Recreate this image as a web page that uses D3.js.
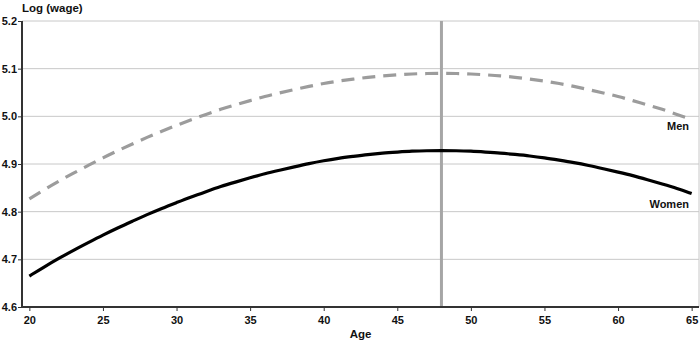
<!DOCTYPE html>
<html>
<head>
<meta charset="utf-8">
<script src="https://cdn.jsdelivr.net/npm/d3@7"></script>
<style>
  html, body { margin: 0; padding: 0; background: #fff; }
  svg text { font-family: "Liberation Sans", Arial, sans-serif; font-weight: bold; fill: #111; }
</style>
</head>
<body>
<svg id="chart" width="700" height="343"></svg>
<script>
// Ages 20..65
const ages = d3.range(20, 66);
const men = [4.827,4.846,4.864,4.881,4.897,4.913,4.928,4.942,4.956,4.969,4.981,4.993,5.004,5.015,5.024,5.033,5.042,5.049,5.056,5.063,5.069,5.074,5.078,5.082,5.085,5.087,5.089,5.090,5.090,5.090,5.089,5.087,5.085,5.082,5.078,5.074,5.069,5.063,5.056,5.049,5.042,5.033,5.024,5.015,5.004,4.993];
const women = [4.665,4.684,4.702,4.719,4.735,4.751,4.766,4.780,4.794,4.807,4.819,4.831,4.842,4.853,4.862,4.871,4.880,4.887,4.894,4.901,4.907,4.912,4.916,4.920,4.923,4.925,4.927,4.928,4.928,4.928,4.927,4.925,4.923,4.920,4.917,4.913,4.908,4.903,4.897,4.890,4.883,4.876,4.867,4.858,4.849,4.838];
const xTicks = [20, 25, 30, 35, 40, 45, 50, 55, 60, 65];
const yTicks = [4.6, 4.7, 4.8, 4.9, 5.0, 5.1, 5.2];
const peakAge = 48;

const svg = d3.select("#chart");
const plotL = 22, plotR = 699, plotT = 21, plotB = 307;

const x = d3.scaleLinear().domain([19.5, 65.5]).range([plotL, plotR]);
const y = d3.scaleLinear().domain([4.6, 5.2]).range([plotB, plotT]);

// gridlines
svg.append("g").selectAll("line").data(yTicks.filter(v => v > 4.6)).join("line")
  .attr("x1", plotL).attr("x2", plotR)
  .attr("y1", d => y(d)).attr("y2", d => y(d))
  .attr("stroke", "#c8c8c8").attr("stroke-width", 1);

// right border
svg.append("line").attr("x1", plotR).attr("x2", plotR).attr("y1", plotT).attr("y2", plotB)
  .attr("stroke", "#c8c8c8").attr("stroke-width", 1);

// peak marker
svg.append("line")
  .attr("x1", x(peakAge)).attr("x2", x(peakAge))
  .attr("y1", y(5.2)).attr("y2", y(4.6))
  .attr("stroke", "#a6a6a6").attr("stroke-width", 3);

const line = d3.line().x((d, i) => x(ages[i])).y(d => y(d)).curve(d3.curveBasis);

svg.append("path").datum(men).attr("d", line)
  .attr("fill", "none").attr("stroke", "#9c9c9c").attr("stroke-width", 3.2)
  .attr("stroke-dasharray", "13,8");

svg.append("path").datum(women).attr("d", line)
  .attr("fill", "none").attr("stroke", "#000").attr("stroke-width", 3.2);

// axes
const xAxis = d3.axisBottom(x).tickValues(xTicks).tickSize(4).tickFormat(d3.format("d"));
const gx = svg.append("g").attr("transform", `translate(0,${plotB})`).call(xAxis);
gx.select(".domain").attr("stroke", "#333").attr("stroke-width", 2).attr("d", `M${plotL},0H${plotR}`);
gx.selectAll(".tick line").attr("stroke", "#333").attr("stroke-width", 1);
gx.selectAll(".tick text").attr("font-size", 11).attr("dy", "0.9em").attr("fill", "#111");

const yAxis = d3.axisLeft(y).tickValues(yTicks).tickSize(4).tickFormat(d3.format(".1f"));
const gy = svg.append("g").attr("transform", `translate(${plotL},0)`).call(yAxis);
gy.select(".domain").attr("stroke", "#333").attr("stroke-width", 2).attr("d", `M0,${plotT}V${plotB}`);
gy.selectAll(".tick line").attr("stroke", "#333").attr("stroke-width", 1);
gy.selectAll(".tick text").attr("font-size", 11).attr("x", -5).attr("fill", "#111");

// titles
svg.append("text").attr("x", 22).attr("y", 12).attr("font-size", 11.5).text("Log (wage)");
svg.append("text").attr("x", (plotL + plotR) / 2).attr("y", 338).attr("text-anchor", "middle")
  .attr("font-size", 11.5).text("Age");

// series labels
svg.append("text").attr("x", 689).attr("y", 130).attr("text-anchor", "end").attr("font-size", 11).text("Men");
svg.append("text").attr("x", 689).attr("y", 208).attr("text-anchor", "end").attr("font-size", 11).text("Women");
</script>
</body>
</html>
